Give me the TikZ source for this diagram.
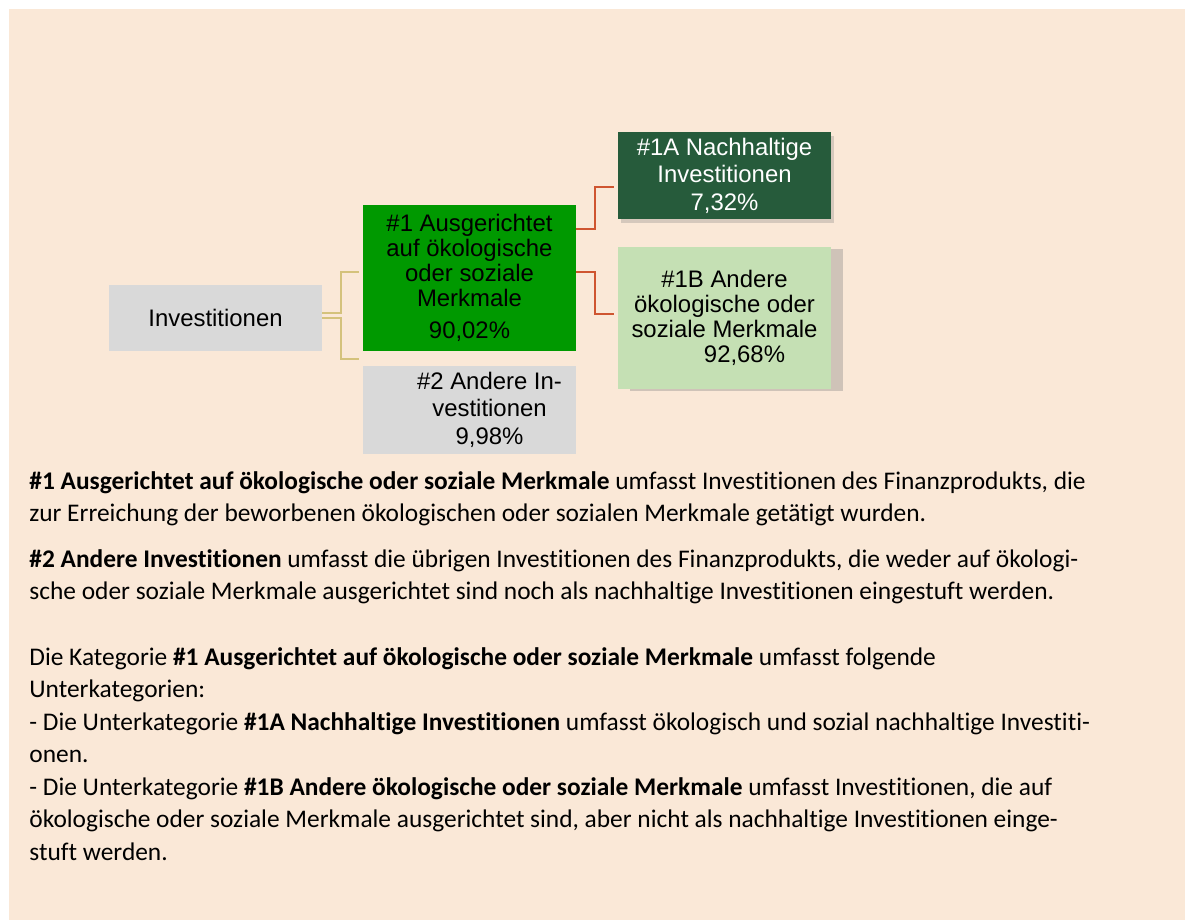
\documentclass[tikz,border=0pt]{standalone}
\usepackage{fontspec}
\setmainfont{Carlito}[Ligatures={NoCommon}]
\newfontfamily\boxfont{Liberation Sans}
\usetikzlibrary{positioning,shadows}
\definecolor{pagebg}{HTML}{FAE8D7}
\definecolor{boxgray}{HTML}{D9D9D9}
\definecolor{esggreen}{HTML}{009900}
\definecolor{darkgreen}{HTML}{265B3B}
\definecolor{lightgreen}{HTML}{C5E0B4}
\definecolor{tanline}{HTML}{D4C27C}
\definecolor{rustline}{HTML}{CF5530}

\begin{document}
\begin{tikzpicture}[x=0.5pt, y=-0.5pt, every node/.style={inner sep=0pt},
  catbox/.style={rectangle, minimum width=106.5pt, align=center, font=\boxfont\fontsize{11.95}{12.5}\selectfont},
  widebox/.style={font=\boxfont\fontsize{11.95}{13.75}\selectfont},
  tanlink/.style={draw=tanline, line width=1pt},
  rustlink/.style={draw=rustline, line width=1pt},
  desc/.style={anchor=north west, align=left, font=\fontsize{12.7}{16.25}\selectfont}]
\useasboundingbox (0,0) rectangle (1189,920);
\fill[pagebg] (9,9) rectangle (1185,920);
% category boxes
\node[catbox, fill=boxgray, minimum height=33pt] (invest) at (215.5,318) {Investitionen};
\node[catbox, fill=esggreen, minimum height=73pt] (esg) at (469.5,278) {\#1 Ausgerichtet\\auf ökologische\\oder soziale\\Merkmale\\[3.5pt]90,02\%};
\node[catbox, widebox, fill=boxgray, minimum height=44pt, below=7pt of esg] (other) {\hspace*{20pt}\#2 Andere In-\\\hspace*{20pt}vestitionen\\\hspace*{20pt}9,98\%};
\node[catbox, widebox, fill=darkgreen, text=white, minimum height=43.5pt, drop shadow={shadow xshift=1.5pt, shadow yshift=-2pt, opacity=0.3}] (sub1a) at (724.5,175.5) {\#1A Nachhaltige\\Investitionen\\7,32\%};
\node[catbox, fill=lightgreen, minimum height=71pt, drop shadow={shadow xshift=6pt, shadow yshift=-1pt, opacity=0.35}] (sub1b) at (724.5,318) {\#1B Andere\\ökologische oder\\soziale Merkmale\\\hspace*{20pt}92,68\%};
% connectors
\coordinate (tanend1) at (359,272);
\coordinate (tanend2) at (359,359);
\coordinate (rustend1) at (614,187);
\coordinate (rustend2) at (614,314);
\draw[tanlink] ([yshift=2.5pt]invest.east) -- ++(19,0) |- (tanend1);
\draw[tanlink] (invest.east) -- ++(19,0) |- (tanend2);
\draw[rustlink] ([yshift=24.5pt]esg.east) -- ++(19,0) |- (rustend1);
\draw[rustlink] ([yshift=3pt]esg.east) -- ++(19,0) |- (rustend2);
% explanations
\node[desc] (desc1) at (29,471) {\textbf{\#1 Ausgerichtet auf ökologische oder soziale Merkmale} umfasst Investitionen des Finanzprodukts, die\\zur Erreichung der beworbenen ökologischen oder sozialen Merkmale getätigt wurden.};
\node[desc] (desc2) at (29,549) {\textbf{\#2 Andere Investitionen} umfasst die übrigen Investitionen des Finanzprodukts, die weder auf ökologi-\\sche oder soziale Merkmale ausgerichtet sind noch als nachhaltige Investitionen eingestuft werden.};
\node[desc] (desc3) at (29,647) {Die Kategorie \textbf{\#1 Ausgerichtet auf ökologische oder soziale Merkmale} umfasst folgende\\Unterkategorien:\\- Die Unterkategorie \textbf{\#1A Nachhaltige Investitionen} umfasst ökologisch und sozial nachhaltige Investiti-\\onen.\\- Die Unterkategorie \textbf{\#1B Andere ökologische oder soziale Merkmale} umfasst Investitionen, die auf\\ökologische oder soziale Merkmale ausgerichtet sind, aber nicht als nachhaltige Investitionen einge-\\stuft werden.};
\end{tikzpicture}
\end{document}
